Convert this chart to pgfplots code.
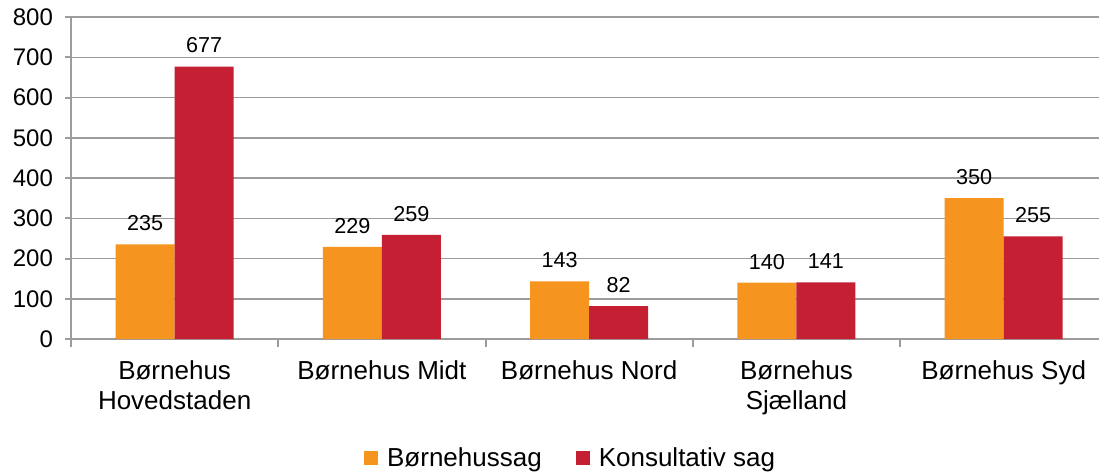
\documentclass[border=0pt]{standalone}
\usepackage{fontspec}
\setmainfont{Liberation Sans}
\usepackage{pgfplots}
\pgfplotsset{compat=1.18}
\definecolor{bhorange}{HTML}{F5941F}
\definecolor{bhred}{HTML}{C41F33}
\definecolor{gridgray}{HTML}{9C9C9C}

\begin{document}
\begin{tikzpicture}
\begin{axis}[
  scale only axis, width=514pt, height=161pt,
  ybar=0pt, bar width=0.285,
  xmin=-0.5, xmax=4.46, ymin=0, ymax=800,
  axis x line*=bottom, axis y line*=left,
  axis line style={gridgray, line width=1pt},
  xtick={0,1,2,3,4},
  xticklabels={Børnehus\\Hovedstaden, Børnehus Midt, Børnehus Nord, Børnehus\\Sjælland, Børnehus Syd},
  major x tick style={draw=none},
  minor xtick={-0.5,0.5,1.5,2.5,3.5},
  minor x tick style={gridgray, line width=1pt},
  minor tick length=4pt,
  ytick={0,100,...,800},
  major y tick style={gridgray, line width=1pt},
  major tick length=3pt,
  tick align=outside,
  ymajorgrids, grid style={gridgray, line width=0.75pt},
  yticklabel style={font=\fontsize{12}{14}\selectfont, xshift=-2.5pt},
  xticklabel style={font=\fontsize{13}{15}\selectfont, align=center, yshift=-4.5pt},
  /pgf/number format/assume math mode=true,
  nodes near coords,
  every node near coord/.append style={font=\fontsize{10.8}{12}\selectfont, black, anchor=center, yshift=10.5pt},
  legend columns=2,
  legend style={draw=none, at={(0.487,-0.37)}, anchor=center,
    font=\fontsize{13}{15}\selectfont,
    /tikz/every odd column/.append style={column sep=2.5pt},
    /tikz/every even column/.append style={column sep=15pt}},
  legend image code/.code={\fill[#1] (0pt,-3.5pt) rectangle (7pt,3.5pt);},
]
\addplot[fill=bhorange, draw=none] coordinates {(0,235) (1,229) (2,143) (3,140) (4,350)};
\addlegendentry{Børnehussag}
\addplot[fill=bhred, draw=none] coordinates {(0,677) (1,259) (2,82) (3,141) (4,255)};
\addlegendentry{Konsultativ sag}
\end{axis}
\pgfresetboundingbox
\path[use as bounding box] (current axis.south west) ++(-35.5pt,-67pt) rectangle ++(549.5pt,236.5pt);
\end{tikzpicture}
\end{document}
